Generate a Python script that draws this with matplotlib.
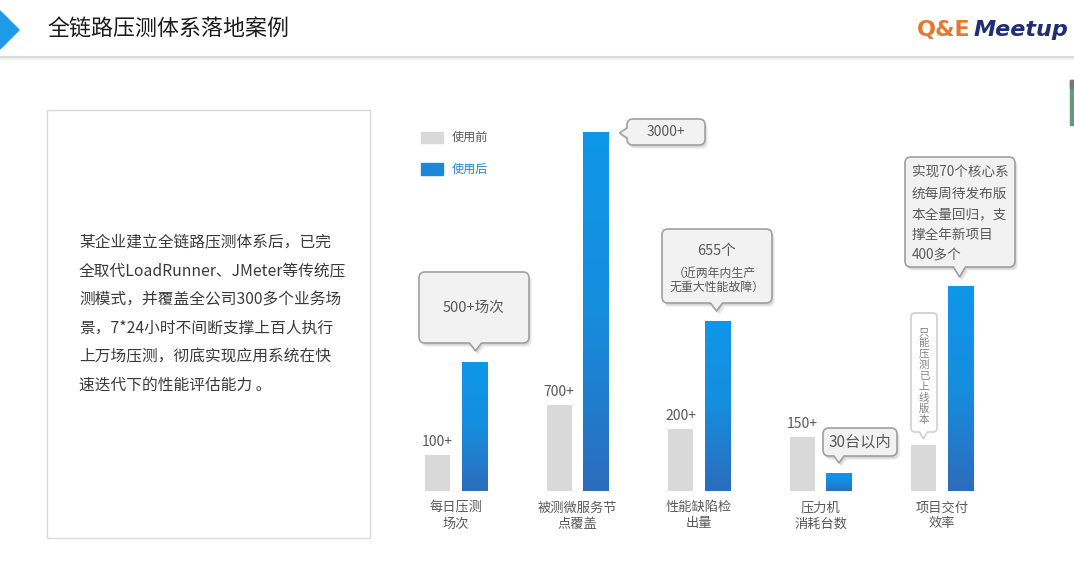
import numpy as np
import matplotlib
matplotlib.use("Agg")
import matplotlib.pyplot as plt
from matplotlib.path import Path
from matplotlib.patches import PathPatch, Rectangle, Polygon
from matplotlib.colors import LinearSegmentedColormap

plt.rcParams['font.family'] = ['Noto Sans CJK SC', 'DejaVu Sans']

# ---------------- data ----------------
categories = ["每日压测\n场次", "被测微服务节\n点覆盖", "性能缺陷检\n出量", "压力机\n消耗台数", "项目交付\n效率"]
series_names = ["使用前", "使用后"]
before = [36, 86, 62, 54, 46]      # relative bar heights
after = [129, 359, 170, 18, 205]
before_labels = ["100+", "700+", "200+", "150+", ""]

title = "全链路压测体系落地案例"
body_lines = [
    "某企业建立全链路压测体系后，已完",
    "全取代LoadRunner、JMeter等传统压",
    "测模式，并覆盖全公司300多个业务场",
    "景，7*24小时不间断支撑上百人执行",
    "上万场压测，彻底实现应用系统在快",
    "速迭代下的性能评估能力 。",
]
note_daily = "500+场次"
note_nodes = "3000+"
note_defects = ["655个", "（近两年内生产", "无重大性能故障）"]
note_machines = "30台以内"
note_before_eff = "只能压测已上线版本"
note_after_eff = ["实现70个核心系", "统每周待发布版", "本全量回归，支", "撑全年新项目", "400多个"]

# ---------------- figure ----------------
W, H = 1074, 579
fig = plt.figure(figsize=(W / 100, H / 100), dpi=100, facecolor="white")

ax = fig.add_axes([395.25 / W, (H - 491) / H, 607.5 / W, 400 / H])
ax.patch.set_alpha(0)
x = np.arange(len(categories))
off, bw = 0.152, 0.206
bars_b = ax.bar(x - off, before, bw, color="#d9d9d9", zorder=2)
bars_a = ax.bar(x + off, after, bw, color="#1592e2", zorder=2)

cmap = LinearSegmentedColormap.from_list("bl", ["#2c6cbc", "#168ddd", "#0e97e8"])
grad = np.linspace(0, 1, 256).reshape(-1, 1)
for r in bars_a:
    x0, y0, w, h = r.get_x(), r.get_y(), r.get_width(), r.get_height()
    im = ax.imshow(grad, cmap=cmap, aspect="auto", origin="lower",
                   extent=[x0, x0 + w, y0, y0 + h], zorder=3)
    im.set_clip_path(r)

for i, lbl in enumerate(before_labels):
    if lbl:
        ax.annotate(lbl, (x[i] - off, before[i]), xytext=(0, 4), textcoords="offset points",
                    ha="center", va="bottom", fontsize=10, color="#595959")

ax.set_xlim(-0.5, 4.5)
ax.set_ylim(0, 400)
ax.axis("off")

# overlay in pixel coordinates
ov = fig.add_axes([0, 0, 1, 1], zorder=5)
ov.set_xlim(0, W)
ov.set_ylim(H, 0)
ov.axis("off")
ov.patch.set_alpha(0)


def to_ov(xd, yd):
    return ov.transData.inverted().transform(ax.transData.transform((xd, yd)))


# header
ov.add_patch(Polygon([(0, 11), (19, 30), (0, 49)], closed=True, color="#1e9be8"))
ov.text(47, 30, title, fontsize=15.8, color="#1a1a1a", va="center", ha="left")
ov.plot([0, W], [57, 57], color="#d9d9d9", lw=1.5)
ov.plot([0, W], [59, 59], color="#f0f0f0", lw=1.5)
ov.text(1068, 30, "Meetup", fontsize=16, fontweight="bold", style="italic",
        color="#1f2d7a", family="DejaVu Sans", va="center", ha="right")
ov.text(970, 30, "Q&E", fontsize=16, fontweight="bold", color="#e8772e",
        family="DejaVu Sans", va="center", ha="right")
ov.add_patch(Rectangle((1070, 80), 4, 45, color="#5f9c7c"))
ov.add_patch(Rectangle((1070, 80), 4, 8, color="#777777"))

# left text box
ov.add_patch(Rectangle((47, 110), 323, 428, facecolor="white", edgecolor="#d9d9d9", lw=1))
for k, line in enumerate(body_lines):
    ov.text(79, 243 + 28.4 * k, line, fontsize=11.3, color="#3a3a3a", va="center", ha="left")

# legend
ov.add_patch(Rectangle((421, 132), 22, 11, color="#d9d9d9"))
ov.add_patch(Rectangle((421, 163), 22, 12, color="#1a88d8"))
ov.text(452, 137, series_names[0], fontsize=8.7, color="#595959", va="center")
ov.text(452, 169, series_names[1], fontsize=8.7, color="#1f8ad6", va="center")

# category labels
for i, cat in enumerate(categories):
    cx, _ = to_ov(x[i], 0)
    l1, l2 = cat.split("\n")
    ov.text(cx, 508, l1, fontsize=9.5, color="#595959", ha="center", va="center")
    ov.text(cx, 524, l2, fontsize=9.5, color="#595959", ha="center", va="center")


def callout_path(x0, y0, x1, y1, side, tip, r=6, w=6):
    V, C = [], []

    def L(p):
        V.append(p); C.append(Path.LINETO)

    def Q(c, p):
        V.extend([c, p]); C.extend([Path.CURVE3, Path.CURVE3])

    V.append((x0 + r, y0)); C.append(Path.MOVETO)
    L((x1 - r, y0)); Q((x1, y0), (x1, y0 + r))
    L((x1, y1 - r)); Q((x1, y1), (x1 - r, y1))
    if side == "bottom":
        tx, ty = tip
        L((tx + w, y1)); L((tx, ty)); L((tx - w, y1))
    L((x0 + r, y1)); Q((x0, y1), (x0, y1 - r))
    if side == "left":
        tx, ty = tip
        L((x0, ty + w)); L((tx, ty)); L((x0, ty - w))
    L((x0, y0 + r)); Q((x0, y0), (x0 + r, y0))
    V.append((x0 + r, y0)); C.append(Path.CLOSEPOLY)
    return Path(V, C)


def draw_callout(box, side, tip, fc="#f2f2f2", ec="#a0a0a0", r=6, w=6, shadow=True):
    p = callout_path(*box, side, tip, r=r, w=w)
    if shadow:
        for dx, dy, a in [(3, 4, 0.05), (2, 3, 0.06), (1, 2, 0.06)]:
            ps = Path(p.vertices + np.array([dx, dy]), p.codes)
            ov.add_patch(PathPatch(ps, facecolor="black", edgecolor="none", alpha=a))
    ov.add_patch(PathPatch(p, facecolor=fc, edgecolor=ec, lw=1.2))


tc = "#595959"
# 1: daily tests
tx, ty = to_ov(x[0] + off, after[0])
draw_callout((419, 272, 529, 343), "bottom", (tx + 1, ty - 11))
ov.text(474, 308, note_daily, fontsize=10.5, color=tc, ha="center", va="center")

# 2: nodes
tx, ty = to_ov(x[1] + off + bw / 2, after[1])
draw_callout((627, 119, 705, 145), "left", (tx + 11, ty + 1), w=5)
ov.text(666, 132, note_nodes, fontsize=10, color=tc, ha="center", va="center")

# 3: defects
tx, ty = to_ov(x[2] + off, after[2])
draw_callout((662, 229, 772, 303), "bottom", (tx - 1, ty - 10))
ov.text(717, 251, note_defects[0], fontsize=10.5, color=tc, ha="center", va="center")
ov.text(714, 273, note_defects[1], fontsize=8.6, color=tc, ha="center", va="center")
ov.text(717, 287, note_defects[2], fontsize=8.6, color=tc, ha="center", va="center")

# 4: machines
tx, ty = to_ov(x[3] + off, after[3])
draw_callout((823, 428, 897, 456), "bottom", (tx, ty - 10), w=5)
ov.text(860, 442, note_machines, fontsize=11, color=tc, ha="center", va="center")

# 5a: before efficiency (vertical)
tx, ty = to_ov(x[4] - off, before[4])
draw_callout((911, 313, 937, 432), "bottom", (tx, ty - 6), fc="white", ec="#d0d0d0",
             r=4, w=4, shadow=False)
for k, ch in enumerate(note_before_eff):
    ov.text(924, 332 + 11 * k, ch, fontsize=7.5, color="#808080", ha="center", va="center")

# 5b: after efficiency
tx, ty = to_ov(x[4] + off, after[4])
draw_callout((905, 157, 1015, 267), "bottom", (tx - 1, ty - 9))
for k, line in enumerate(note_after_eff):
    ov.text(912, 173 + 20.5 * k, line, fontsize=9.8, color=tc, ha="left", va="center")

fig.savefig("out.png", dpi=100, facecolor="white")
